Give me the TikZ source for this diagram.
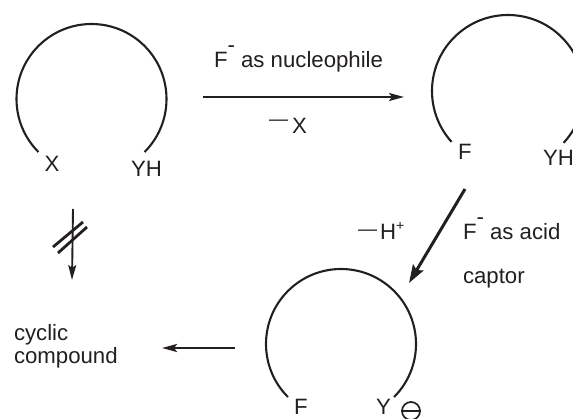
\documentclass[tikz,border=0pt]{standalone}
\usepackage{fontspec}
\setmainfont{Liberation Sans}
\usetikzlibrary{arrows.meta}
\definecolor{ink}{HTML}{231F20}
\tikzset{
  txt/.style={anchor=base west,inner sep=0pt,outer sep=0pt,text=ink,font=\fontsize{22.2}{23}\selectfont},
  ring/.style={draw=ink,line width=2.1pt},
  rxn/.style={draw=ink,line width=1.9pt,-{Stealth[length=15pt,width=8pt,inset=3pt]}},
  rxnbold/.style={draw=ink,line width=3pt,-{Stealth[length=18pt,width=12pt,inset=3pt]}},
  bar/.style={draw=ink,line width=2.8pt},
  neg/.style={circle,draw=ink,line width=1.7pt,minimum size=18pt,inner sep=0pt}
}
\newcommand{\supminus}{\raisebox{15pt}{-}}
\newcommand{\bigdash}[1]{\raisebox{#1}{\fontsize{19}{19}\selectfont —}}
\begin{document}
\begin{tikzpicture}[x=1pt,y=-1pt]
\useasboundingbox (0,0) rectangle (573,419);
\clip (0,0) rectangle (573,419);
% rings
\coordinate (c1) at (91.5,99);
\coordinate (c2) at (508,91);
\coordinate (c3) at (341,344);
\draw[ring] (c1) ++(135:75) arc[start angle=135,end angle=405,radius=75];
\draw[ring] (c2) ++(138:76) arc[start angle=138,end angle=403,radius=76];
\draw[ring] (c3) ++(135:75) arc[start angle=135,end angle=405,radius=75];
% labels
\node[txt] (x1) at (44.5,172) {X};
\node[txt] (yh1) at (131,177) {YH};
\node[txt] (fnuc) at (214,68) {F\supminus{} as nucleophile};
\node[txt] (mx) at (269,134) {\bigdash{8pt}\hspace{4pt}X};
\node[txt] (f2) at (458,160) {F};
\node[txt] (yh2) at (543,166) {YH};
\node[txt] (mh) at (358,240) {\bigdash{4pt}\hspace{3pt}H\raisebox{9pt}{\fontsize{14}{14}\selectfont +}};
\node[txt] (facid) at (463,240) {F\supminus{} as acid};
\node[txt] (capt) at (463,284) {captor};
\node[txt] (f3) at (294,414) {F};
\node[txt] (y3) at (376,414) {Y};
\node[neg] (yneg) at (411,411) {};
\draw[draw=ink,line width=1.7pt] (yneg.west) -- (yneg.east);
\node[txt,align=left,anchor=base west] (cyc) at (14,364) {cyclic\\compound};
% arrows
\coordinate (a1s) at (203,97);
\coordinate (a1e) at (404,97);
\coordinate (a2s) at (465,189);
\coordinate (a2e) at (409,283);
\coordinate (a3s) at (235,348);
\coordinate (a3e) at (162,348);
\coordinate (a4s) at (73,209);
\coordinate (a4e) at (72,280);
\coordinate (b1s) at (53,247);
\coordinate (b1e) at (83,222);
\coordinate (b2s) at (58,253);
\coordinate (b2e) at (87,227);
\draw[rxn] (a1s) -- (a1e);
\draw[rxnbold] (a2s) -- (a2e);
\draw[rxn,line width=2.3pt] (a3s) -- (a3e);
\draw[rxn] (a4s) -- (a4e);
\draw[bar] (b1s) -- (b1e);
\draw[bar] (b2s) -- (b2e);
\end{tikzpicture}
\end{document}
